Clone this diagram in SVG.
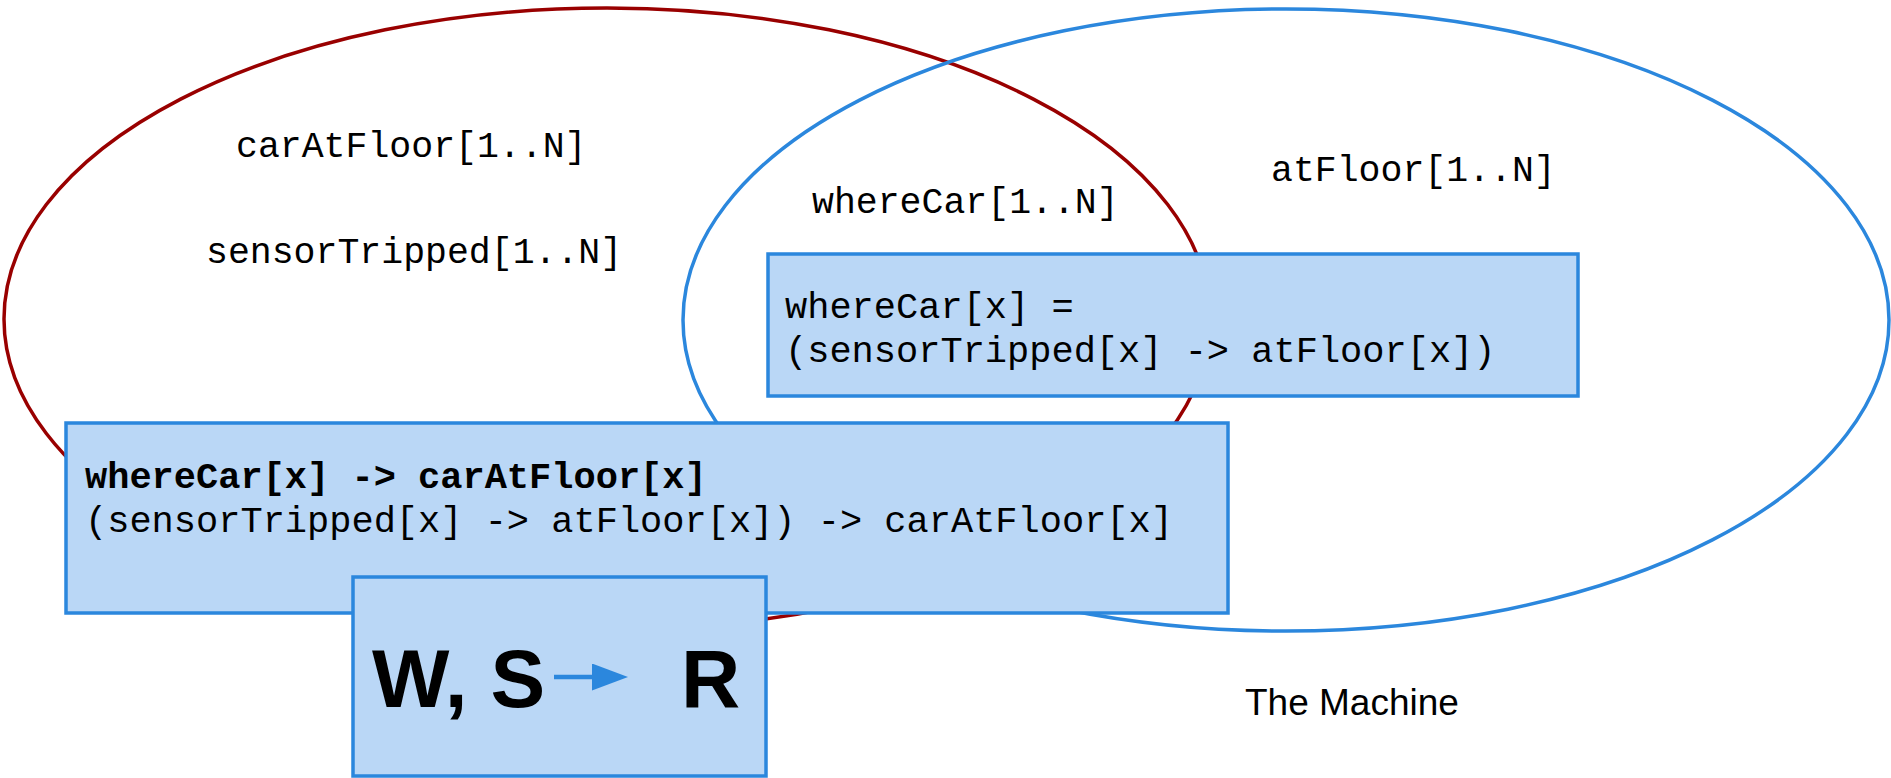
<svg xmlns="http://www.w3.org/2000/svg" width="1891" height="778" viewBox="0 0 1891 778">
  <style>
    .set { fill: none; stroke-width: 3.5; }
    .box { fill: #bad7f6; stroke: #2b87dd; stroke-width: 3.5; }
    .mono { font-family: "Liberation Mono", "Courier New", monospace; fill: #000; }
    .lbl { font-size: 36.5px; }
    .code { font-size: 37px; }
    .big { font-family: "Liberation Sans", Arial, sans-serif; font-weight: bold; font-size: 82px; fill: #000; }
    .caption { font-family: "Liberation Sans", Arial, sans-serif; font-size: 37px; fill: #000; }
  </style>
  <defs>
    <marker id="head" viewBox="0 0 8 6" refX="0" refY="3" markerWidth="8" markerHeight="6" markerUnits="strokeWidth" orient="auto">
      <path d="M0,0 L8,3 L0,6 Z" fill="#2b87dd"/>
    </marker>
  </defs>

  <rect width="1891" height="778" fill="#ffffff"/>

  <!-- environment set -->
  <g id="world">
    <ellipse class="set" cx="607" cy="319" rx="603" ry="311" stroke="#990000"/>
    <text class="mono lbl" x="236" y="157">carAtFloor[1..N]</text>
    <text class="mono lbl" x="206" y="263">sensorTripped[1..N]</text>
  </g>

  <!-- machine set -->
  <g id="machine">
    <ellipse class="set" cx="1286" cy="320" rx="603" ry="311" stroke="#2b87dd"/>
    <text class="mono lbl" x="812" y="213">whereCar[1..N]</text>
    <text class="mono lbl" x="1271" y="181">atFloor[1..N]</text>
    <text class="caption" x="1245" y="715">The Machine</text>
  </g>

  <!-- specification box -->
  <g id="spec">
    <rect class="box" x="768" y="254" width="810" height="142"/>
    <text class="mono code" x="785" y="318">whereCar[x] =</text>
    <text class="mono code" x="785" y="362">(sensorTripped[x] -&gt; atFloor[x])</text>
  </g>

  <!-- requirement box -->
  <g id="requirement">
    <rect class="box" x="66" y="423" width="1162" height="190"/>
    <text class="mono code" x="85" y="488" font-weight="bold">whereCar[x] -&gt; carAtFloor[x]</text>
    <text class="mono code" x="85" y="532">(sensorTripped[x] -&gt; atFloor[x]) -&gt; carAtFloor[x]</text>
  </g>

  <!-- entailment box -->
  <g id="entailment">
    <rect class="box" x="353" y="577" width="413" height="199"/>
    <text class="big" x="372" y="707">W, S</text>
    <text class="big" x="681" y="707">R</text>
  </g>

  <g id="connectors">
    <line x1="554" y1="677" x2="592" y2="677" stroke="#2b87dd" stroke-width="4.5" marker-end="url(#head)"/>
  </g>
</svg>
